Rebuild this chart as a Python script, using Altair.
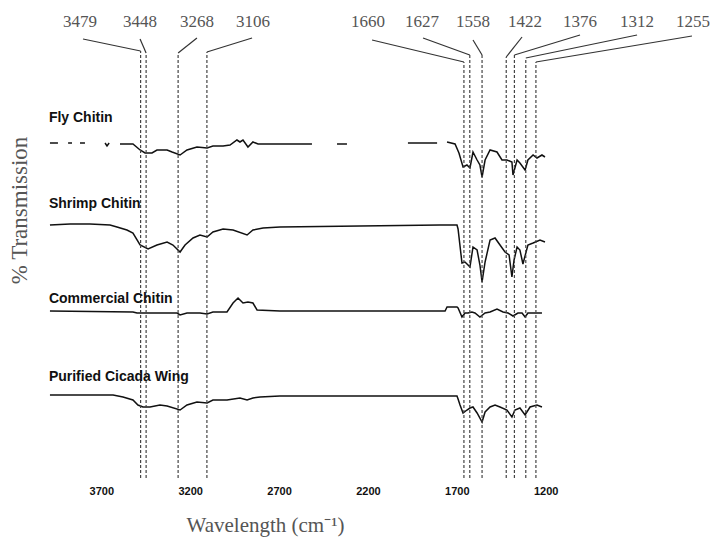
import altair as alt
import pandas as pd

# ---------------- data (wavenumber cm-1, relative % transmission) ----------------
series_names = ["Fly Chitin", "Shrimp Chitin", "Commercial Chitin", "Purified Cicada Wing"]

# None marks a gap in the recorded trace
fly_wn = [3989, 3944, None, 3887, 3865, None, 3820, 3792, None, 3679, 3668, 3656, None,
          3595, 3539, 3522, 3482, 3454, 3415, 3387, 3330, 3302, 3257, 3218, 3162, 3105, 3072,
          3015, 2976, 2937, 2920, 2903, 2875, 2847, 2818, 2515, None, 2374, 2318, None,
          1975, 1811, None,
          1755, 1710, 1688, 1665, 1643, 1626, 1609, 1586, 1570, 1558, 1541, 1513, 1474, 1446,
          1418, 1390, 1384, 1361, 1345, 1316, 1300, 1271, 1249, 1221, 1204]
fly_t = [337, 337, None, 337, 337, None, 337, 337, None, 337, 334, 337, None,
         336, 336, 336, 330, 327, 327, 330, 330, 328, 325, 330, 333, 332, 334,
         334, 335, 340, 338, 340, 333, 338, 336, 336, None, 336, 336, None,
         337, 337, None,
         338, 336, 327, 313, 315, 312, 328, 320, 315, 303, 320, 330, 328, 320,
         320, 318, 305, 320, 317, 310, 320, 325, 322, 325, 323]

shrimp_wn = [3989, 3876, 3764, 3651, 3612, 3556, 3522, 3482, 3437, 3387, 3330, 3297, 3257,
             3229, 3184, 3145, 3105, 3072, 3015, 2959, 2880, 2847, 2790, 2695, 2245, 1795,
             1699, 1693, 1671, 1654, 1637, 1626, 1609, 1586, 1570, 1558, 1541, 1513, 1485,
             1457, 1429, 1406, 1390, 1378, 1361, 1345, 1328, 1300, 1271, 1232, 1204]
shrimp_t = [255, 256, 256, 255, 253, 250, 247, 235, 231, 235, 238, 235, 228,
            235, 242, 245, 243, 248, 251, 250, 245, 250, 252, 253, 254, 255,
            255, 251, 217, 218, 215, 213, 233, 230, 215, 198, 218, 240, 242,
            235, 228, 225, 203, 220, 233, 230, 216, 235, 237, 240, 238]

commercial_wn = [3989, 3522, 3499, 3274, 3257, 3218, 3145, 3105, 3072, 2993, 2959, 2931,
                 2903, 2875, 2847, 2824, 2695, 1766, 1755, 1699, 1693, 1671, 1654, 1637,
                 1615, 1598, 1570, 1541, 1513, 1474, 1440, 1412, 1384, 1356, 1333, 1316,
                 1300, 1221]
commercial_t = [169, 168, 167, 167, 165, 167, 167, 166, 168, 168, 177, 182,
                177, 178, 177, 170, 169, 169, 173, 173, 172, 163, 167, 167,
                168, 167, 163, 167, 168, 171, 168, 167, 164, 167, 167, 163,
                167, 167]

cicada_wn = [3989, 3634, 3578, 3522, 3494, 3466, 3426, 3370, 3330, 3257, 3218, 3162, 3105,
             3072, 2993, 2920, 2880, 2847, 2807, 2695, 1699, 1693, 1682, 1665, 1643, 1626,
             1609, 1586, 1558, 1541, 1513, 1485, 1457, 1418, 1390, 1373, 1345, 1316, 1288,
             1249, 1221]
cicada_t = [85, 85, 83, 80, 75, 73, 73, 75, 74, 70, 75, 78, 77,
            80, 80, 82, 80, 82, 83, 84, 84, 81, 75, 67, 70, 72,
            73, 67, 58, 68, 73, 75, 73, 70, 63, 70, 72, 65, 73,
            75, 73]

# assigned bands
peaks = [3479, 3448, 3268, 3106, 1660, 1627, 1558, 1422, 1376, 1312, 1255]
peak_labels = [str(p) for p in peaks]

x_ticks = [3700, 3200, 2700, 2200, 1700, 1200]

# ---------------- annotation layout (in data units) ----------------
label_wn = [3820, 3482, 3162, 2847, 2200, 1896, 1609, 1316, 1007, 686, 371]   # label centres
leader_wn = [3803, 3482, 3162, 2852, 2177, 1890, 1609, 1333, 1007, 686, 377]  # leader start
leader_t = [441, 441, 442, 442, 440, 442, 440, 443, 445, 445, 444]
bend_t = [429, 427, 427, 428, 418, 425, 425, 423, 425, 422, 418]
label_t = 458
rule_bottom = 2
name_t = [362, 276, 181, 103]
name_wn = 3995

# ---------------- build tables ----------------
rows = []
for name, wns, ts in [(series_names[0], fly_wn, fly_t), (series_names[1], shrimp_wn, shrimp_t),
                      (series_names[2], commercial_wn, commercial_t),
                      (series_names[3], cicada_wn, cicada_t)]:
    seg = 0
    for w, t in zip(wns, ts):
        if w is None:
            seg += 1
            continue
        rows.append({"series": name, "seg": f"{name}-{seg}", "wn": w, "T": t})
spec = pd.DataFrame(rows)

ann = pd.DataFrame({"peak": peaks, "label": peak_labels, "label_wn": label_wn,
                    "leader_wn": leader_wn, "leader_t": leader_t, "bend_t": bend_t,
                    "label_t": [label_t] * len(peaks), "bottom": [rule_bottom] * len(peaks)})
names = pd.DataFrame({"name": series_names, "wn": [name_wn] * 4, "T": name_t})

xscale = alt.Scale(domain=[4000, 270], nice=False, zero=False)
yscale = alt.Scale(domain=[0, 470], nice=False, zero=False)

x_axis = alt.Axis(values=x_ticks, format="d", ticks=False, domain=False, grid=False,
                  labelFont="Liberation Sans", labelFontSize=11, labelFontWeight="bold",
                  labelColor="#111", labelPadding=5,
                  title="Wavelength (cm\u207b\u00b9)", titleFont="Liberation Serif",
                  titleFontSize=21, titleFontWeight="normal", titleColor="#555",
                  titleX=217, titleY=45, titleBaseline="middle", titleAlign="center")
y_axis = alt.Axis(labels=False, ticks=False, domain=False, grid=False,
                  title="% Transmission", titleFont="Liberation Serif", titleFontSize=23,
                  titleFontWeight="normal", titleColor="#555", titleX=-29, titleY=200,
                  titleAngle=270, titleBaseline="middle", titleAlign="center")

lines = alt.Chart(spec).mark_line(color="#111", strokeWidth=1.5).encode(
    x=alt.X("wn:Q", scale=xscale, axis=x_axis),
    y=alt.Y("T:Q", scale=yscale, axis=y_axis),
    detail="seg:N",
)

dashed = alt.Chart(ann).mark_rule(color="#444", strokeWidth=1.2, strokeDash=[3, 2]).encode(
    x=alt.X("peak:Q", scale=xscale),
    y=alt.Y("bottom:Q", scale=yscale),
    y2="bend_t:Q",
)

leaders = alt.Chart(ann).mark_rule(color="#333", strokeWidth=1.2).encode(
    x=alt.X("leader_wn:Q", scale=xscale),
    x2="peak:Q",
    y=alt.Y("leader_t:Q", scale=yscale),
    y2="bend_t:Q",
)

top_labels = alt.Chart(ann).mark_text(font="Liberation Serif", fontSize=17, color="#555",
                                      align="center", baseline="middle").encode(
    x=alt.X("label_wn:Q", scale=xscale),
    y=alt.Y("label_t:Q", scale=yscale),
    text="label:N",
)

series_text = alt.Chart(names).mark_text(font="Liberation Sans", fontSize=14, fontWeight="bold",
                                         color="#111", align="left", baseline="middle").encode(
    x=alt.X("wn:Q", scale=xscale),
    y=alt.Y("T:Q", scale=yscale),
    text="name:N",
)

chart = alt.layer(lines, dashed, leaders, top_labels, series_text).properties(
    width=663, height=470,
    autosize=alt.AutoSizeParams(type="none"),
    padding={"left": 48, "top": 10, "right": 0, "bottom": 62},
).configure_view(stroke=None)

chart.save("out.html", embed_options={"renderer": "svg", "actions": False})
